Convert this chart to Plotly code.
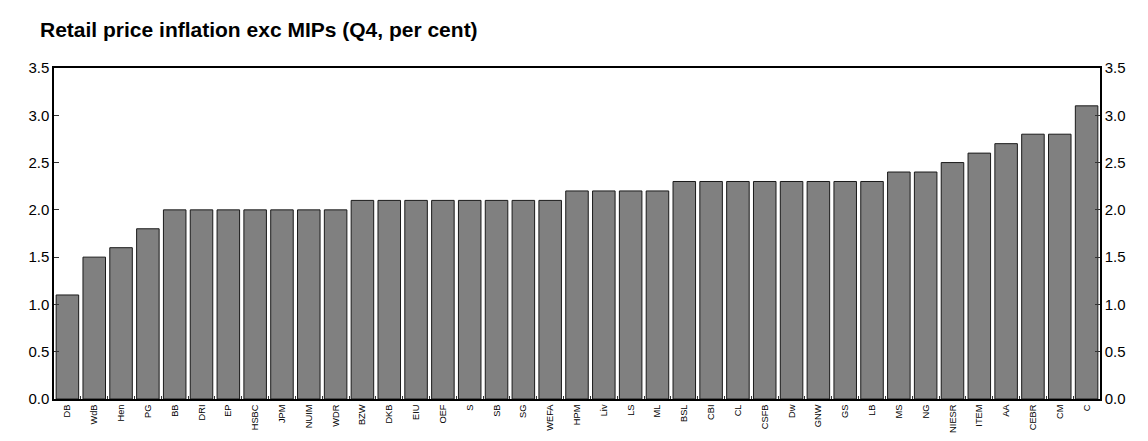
import plotly.graph_objects as go

categories = ["DB", "WdB", "Hen", "PG", "BB", "DRI", "EP", "HSBC", "JPM", "NUIM", "WDR",
              "BZW", "DKB", "EIU", "OEF", "S", "SB", "SG", "WEFA", "HPM", "Liv", "LS", "ML",
              "BSL", "CBI", "CL", "CSFB", "Dw", "GNW", "GS", "LB", "MS", "NG", "NIESR",
              "ITEM", "AA", "CEBR", "CM", "C"]
values = [1.1, 1.5, 1.6, 1.8, 2.0, 2.0, 2.0, 2.0, 2.0, 2.0, 2.0,
          2.1, 2.1, 2.1, 2.1, 2.1, 2.1, 2.1, 2.1, 2.2, 2.2, 2.2, 2.2,
          2.3, 2.3, 2.3, 2.3, 2.3, 2.3, 2.3, 2.3, 2.4, 2.4, 2.5,
          2.6, 2.7, 2.8, 2.8, 3.1]
y_ticks = [0.0, 0.5, 1.0, 1.5, 2.0, 2.5, 3.0, 3.5]
title = "Retail price inflation exc MIPs (Q4, per cent)"

fig = go.Figure()
fig.add_trace(go.Bar(x=categories, y=values, marker=dict(color="#808080", line=dict(color="#1a1a1a", width=1)),
                     showlegend=False, hoverinfo="x+y"))
fig.add_trace(go.Scatter(x=categories, y=values, yaxis="y2", mode="markers",
                         marker=dict(opacity=0, size=1), showlegend=False, hoverinfo="skip"))

# page body has an 8px margin, so the figure is drawn 8px in from the top-left corner
W, H = 1132, 425
font = "Liberation Sans, Arial, sans-serif"
fig.update_layout(
    width=W, height=H,
    margin=dict(l=46, r=40, t=60, b=34),
    paper_bgcolor="white", plot_bgcolor="white",
    bargap=0.16,
    title=dict(text="<b>" + title + "</b>", x=32/W, xanchor="left", y=1 - 22/H, yanchor="middle",
               font=dict(family=font, size=21, color="black")),
    font=dict(family=font, color="black"),
    xaxis=dict(showline=True, linecolor="black", linewidth=1.5, mirror=True, automargin=False,
               range=[-0.5, len(categories) - 0.5],
               ticks="inside", ticklen=3, tickcolor="#333", tickson="boundaries",
               tickangle=-90, tickfont=dict(size=9.3, family=font), showgrid=False),
    yaxis=dict(range=[0, 3.5], tickvals=y_ticks, ticktext=[f"{v:.1f}" for v in y_ticks], automargin=False,
               showline=True, linecolor="black", linewidth=1.5, ticks="inside", ticklen=5,
               tickcolor="#333", showgrid=False, zeroline=False, tickfont=dict(size=15, family=font)),
    yaxis2=dict(range=[0, 3.5], tickvals=y_ticks, ticktext=[f"{v:.1f}" for v in y_ticks], automargin=False,
                overlaying="y", side="right", showline=True, linecolor="black", linewidth=1.5,
                ticks="inside", ticklen=5, tickcolor="#333", showgrid=False, zeroline=False,
                tickfont=dict(size=15, family=font)),
)

fig.write_html("out.html")
